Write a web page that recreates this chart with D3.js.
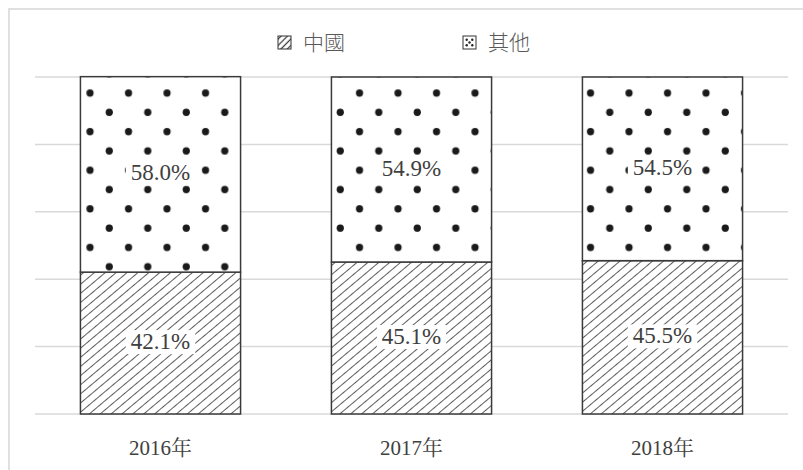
<!DOCTYPE html>
<html>
<head>
<meta charset="utf-8">
<script src="https://cdn.jsdelivr.net/npm/d3@7"></script>
<style>
  body { margin: 0; background: #fff; }
  svg { display: block; }
</style>
</head>
<body>
<div id="chart"></div>
<script>
const years = ["2016年", "2017年", "2018年"];
const seriesNames = ["中國", "其他"];
const china = [42.1, 45.1, 45.5];
const others = [58.0, 54.9, 54.5];
const yTicks = [0, 20, 40, 60, 80, 100];

const serif = '"Liberation Serif"';
const cjkSerif = '"Noto Serif CJK TC"';
const cjkSans = '"Noto Sans CJK TC"';

const width = 803, height = 470;
const margin = { top: 77, right: 15, bottom: 56, left: 35 };

const svg = d3.select("#chart").append("svg")
  .attr("width", width)
  .attr("height", height);

// outer frame (runs off the right/bottom edge like the source)
svg.append("rect")
  .attr("x", 9).attr("y", 9)
  .attr("width", 810).attr("height", 480)
  .attr("fill", "none")
  .attr("stroke", "#e0e0e0")
  .attr("stroke-width", 2);

const defs = svg.append("defs");

// diagonal hatch
const hatch = defs.append("pattern")
  .attr("id", "hatch")
  .attr("patternUnits", "userSpaceOnUse")
  .attr("width", 7).attr("height", 7)
  .attr("patternTransform", "rotate(-40)");
hatch.append("rect").attr("width", 7).attr("height", 7).attr("fill", "#fff");
hatch.append("line")
  .attr("x1", 0).attr("y1", 3.5).attr("x2", 7).attr("y2", 3.5)
  .attr("stroke", "#333").attr("stroke-width", 0.8);

// dots
const dw = 38.5, dh = 38.6;
const dots = defs.append("pattern")
  .attr("id", "dots")
  .attr("patternUnits", "userSpaceOnUse")
  .attr("x", 3.4).attr("y", 6.2)
  .attr("width", dw).attr("height", dh);
dots.append("rect").attr("width", dw).attr("height", dh).attr("fill", "#fff");
dots.append("circle").attr("cx", dw / 4).attr("cy", dh / 4).attr("r", 3.6).attr("fill", "#1a1a1a");
dots.append("circle").attr("cx", dw * 3 / 4).attr("cy", dh * 3 / 4).attr("r", 3.6).attr("fill", "#1a1a1a");

// small legend hatch
const hatchS = defs.append("pattern")
  .attr("id", "hatchS")
  .attr("patternUnits", "userSpaceOnUse")
  .attr("width", 4.5).attr("height", 4.5)
  .attr("patternTransform", "rotate(-45)");
hatchS.append("rect").attr("width", 4.5).attr("height", 4.5).attr("fill", "#fff");
hatchS.append("line")
  .attr("x1", 0).attr("y1", 2.25).attr("x2", 4.5).attr("y2", 2.25)
  .attr("stroke", "#333").attr("stroke-width", 1.2);

const x = d3.scaleBand()
  .domain(years)
  .range([margin.left, width - margin.right])
  .paddingInner(0.362)
  .paddingOuter(0.181);

const y = d3.scaleLinear()
  .domain([0, 100])
  .range([height - margin.bottom, margin.top]);

// gridlines
svg.append("g")
  .selectAll("line")
  .data(yTicks)
  .join("line")
  .attr("x1", margin.left)
  .attr("x2", width - margin.right)
  .attr("y1", d => y(d))
  .attr("y2", d => y(d))
  .attr("stroke", "#d9d9d9")
  .attr("stroke-width", 1.5);

const rows = years.map((yr, i) => ({ year: yr, china: china[i], others: others[i] }));
const stack = d3.stack().keys(["china", "others"])(rows);
const fills = { china: "url(#hatch)", others: "url(#dots)" };

const layers = svg.append("g")
  .selectAll("g")
  .data(stack)
  .join("g")
  .attr("fill", d => fills[d.key]);

layers.selectAll("rect")
  .data(d => d)
  .join("rect")
  .attr("x", d => x(d.data.year))
  .attr("width", x.bandwidth())
  .attr("y", d => y(d[1]))
  .attr("height", d => y(d[0]) - y(d[1]))
  .attr("stroke", "#3a3a3a")
  .attr("stroke-width", 1.5);

// value labels with white boxes
stack.forEach(layer => {
  layer.forEach(d => {
    const cx = x(d.data.year) + x.bandwidth() / 2;
    const cy = (y(d[0]) + y(d[1])) / 2 - 2;
    const g = svg.append("g");
    const t = g.append("text")
      .attr("x", cx).attr("y", cy)
      .attr("text-anchor", "middle")
      .attr("dy", "0.35em")
      .style("font-family", serif)
      .style("font-size", "23px")
      .attr("fill", "#404040")
      .text(d.data[layer.key].toFixed(1) + "%");
    const bb = t.node().getBBox();
    g.insert("rect", "text")
      .attr("x", bb.x - 5).attr("y", bb.y + 1)
      .attr("width", bb.width + 10).attr("height", bb.height - 1)
      .attr("fill", "#fff");
  });
});

// x labels: serif digits, CJK year character
const xl = svg.append("g")
  .selectAll("text")
  .data(years)
  .join("text")
  .attr("x", d => x(d) + x.bandwidth() / 2)
  .attr("y", 455)
  .attr("text-anchor", "middle")
  .style("font-size", "21px")
  .attr("fill", "#404040");
xl.append("tspan").style("font-family", serif).text(d => d.slice(0, 4));
xl.append("tspan").style("font-family", cjkSerif).text(d => d.slice(4));

// legend
const legendX = [278, 463];
const legend = svg.append("g")
  .selectAll("g")
  .data(seriesNames)
  .join("g")
  .attr("transform", (d, i) => `translate(${legendX[i]},36)`);

legend.append("rect")
  .attr("width", 13).attr("height", 13)
  .attr("fill", (d, i) => i === 0 ? "url(#hatchS)" : "#fff")
  .attr("stroke", "#333")
  .attr("stroke-width", 1);

legend.filter((d, i) => i === 1)
  .selectAll("circle")
  .data([[3.7, 3.7], [9.3, 3.7], [6.5, 6.5], [3.7, 9.3], [9.3, 9.3]])
  .join("circle")
  .attr("cx", d => d[0]).attr("cy", d => d[1])
  .attr("r", 1.2)
  .attr("fill", "#222");

legend.append("text")
  .attr("x", 25).attr("y", 6.5)
  .attr("dy", "0.36em")
  .style("font-family", cjkSans)
  .style("font-size", "21px")
  .style("font-weight", 300)
  .attr("fill", "#595959")
  .text(d => d);
</script>
</body>
</html>
